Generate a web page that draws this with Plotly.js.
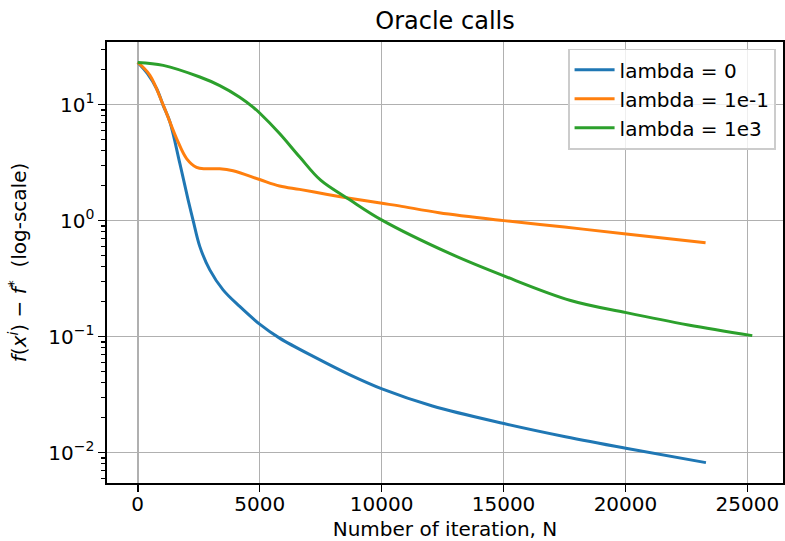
<!DOCTYPE html>
<html>
<head>
<meta charset="utf-8">
<script src="https://cdn.plot.ly/plotly-3.0.1.min.js"></script>
<style>html,body{margin:0;padding:0;background:#fff;}#chart{width:785px;height:541px;}</style>
</head>
<body>
<div id="chart"></div>
<script>
const seriesNames = ["lambda = 0", "lambda = 1e-1", "lambda = 1e3"];
const seriesColors = ["#1f77b4", "#ff7f0e", "#2ca02c"];

const blueX = [0, 400, 777, 1047, 1320, 1729, 2069, 2273, 2547, 2956, 3500, 4182, 5000, 5817, 7317, 8679, 10016, 12084, 15015, 17538, 20015, 23300];
const blueY = [23.1, 18.5, 13.7, 9.8, 7.08, 3.1, 1.5, 1.0, 0.597, 0.376, 0.253, 0.182, 0.128, 0.097, 0.0655, 0.047, 0.0354, 0.0252, 0.0178, 0.0137, 0.0109, 0.0082];

const orangeX = [0, 500, 1047, 1594, 2003, 2412, 2800, 3364, 3909, 5000, 5817, 6635, 7726, 8679, 10016, 10723, 12357, 15015, 17500, 20031, 23285];
const orangeY = [23.1, 17.9, 9.9, 5.1, 3.43, 2.88, 2.8, 2.8, 2.69, 2.26, 1.99, 1.86, 1.69, 1.56, 1.41, 1.34, 1.17, 1.0, 0.88, 0.767, 0.646];

const greenX = [0, 1047, 2547, 3364, 4182, 4727, 5000, 5817, 6635, 7500, 8679, 10016, 12767, 15015, 17750, 20031, 22578, 25200];
const greenY = [23.1, 21.8, 17.3, 14.6, 11.6, 9.53, 8.47, 5.64, 3.55, 2.23, 1.52, 1.01, 0.524, 0.334, 0.205, 0.161, 0.126, 0.102];

const xTickVals = [0, 5000, 10000, 15000, 20000, 25000];
const xTickText = ["0", "5000", "10000", "15000", "20000", "25000"];
const yTickVals = [0.01, 0.1, 1, 10];
const yTickText = ["10<sup>\u22122</sup>", "10<sup>\u22121</sup>", "10<sup>0</sup>", "10<sup>1</sup>"];
const yMinorVals = [0.006, 0.007, 0.008, 0.009, 0.02, 0.03, 0.04, 0.05, 0.06, 0.07, 0.08, 0.09,
  0.2, 0.3, 0.4, 0.5, 0.6, 0.7, 0.8, 0.9, 2, 3, 4, 5, 6, 7, 8, 9, 20, 30];

const xs = [blueX, orangeX, greenX];
const ys = [blueY, orangeY, greenY];
const traces = xs.map((x, i) => ({
  x: x, y: ys[i], type: "scatter", mode: "lines", name: seriesNames[i],
  line: {color: seriesColors[i], width: 3, shape: "spline", smoothing: 1}
}));

const font = {family: "DejaVu Sans", size: 20, color: "#000"};
const layout = {
  width: 785, height: 541,
  margin: {l: 107, r: 2, t: 42, b: 58},
  paper_bgcolor: "#fff", plot_bgcolor: "#fff",
  font: font,
  showlegend: true,
  title: {text: "Oracle calls", font: {family: "DejaVu Sans", size: 24, color: "#000"},
          x: 0.5, xref: "paper", y: 0.962, yref: "container", yanchor: "middle"},
  xaxis: {
    range: [-1260, 26460], tickmode: "array", tickvals: xTickVals, ticktext: xTickText,
    ticks: "outside", ticklen: 7, tickwidth: 1.6, tickcolor: "#000",
    showline: true, linecolor: "#000", linewidth: 1.6, mirror: true,
    showgrid: true, gridcolor: "#b0b0b0", gridwidth: 1.6, zeroline: false,
    tickfont: font, ticklabelstandoff: -5,
    title: {text: "Number of iteration, N", font: font, standoff: 18}
  },
  yaxis: {
    type: "log", range: [-2.262, 1.540], tickmode: "array", tickvals: yTickVals, ticktext: yTickText,
    ticks: "outside", ticklen: 7, tickwidth: 1.6, tickcolor: "#000",
    showline: true, linecolor: "#000", linewidth: 1.6, mirror: true,
    showgrid: true, gridcolor: "#b0b0b0", gridwidth: 1.6, zeroline: false,
    tickfont: font,
    minor: {tickmode: "array", tickvals: yMinorVals, ticks: "outside", ticklen: 4, tickwidth: 1.2, tickcolor: "#000", showgrid: false},
    title: {text: "<i>f</i>(<i>x<sup>i</sup></i>) \u2212 <i>f</i><sup>*</sup>  (log-scale)", font: font, standoff: 16}
  },
  legend: {
    x: 0.9896, xanchor: "right", y: 0.985, yanchor: "top",
    bgcolor: "rgba(255,255,255,0.8)", bordercolor: "#cccccc", borderwidth: 1.6,
    font: font, tracegroupgap: 0, itemwidth: 40
  }
};

Plotly.newPlot("chart", traces, layout, {staticPlot: true, displayModeBar: false});
</script>
</body>
</html>
